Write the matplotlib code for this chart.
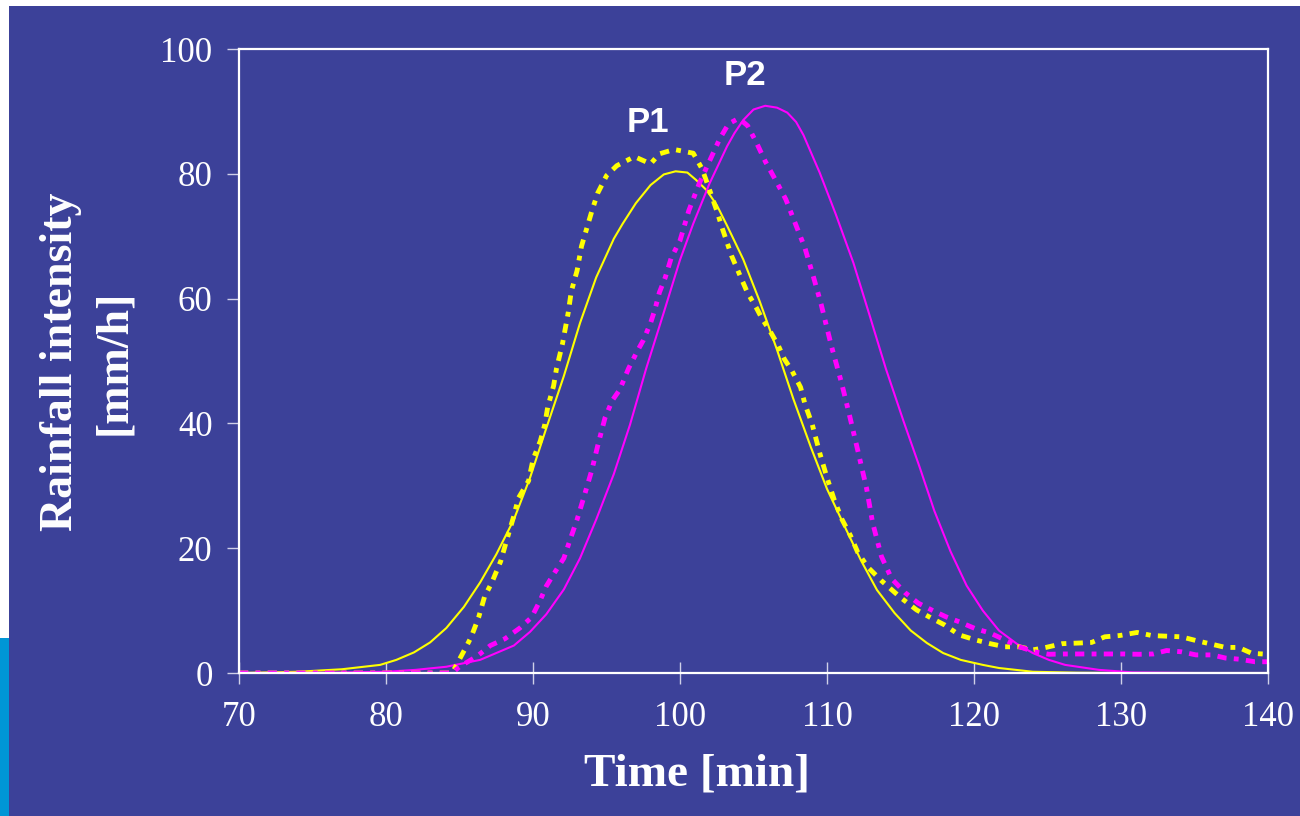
import matplotlib.pyplot as plt
from matplotlib.patches import Rectangle

# model P1 (solid yellow)
t_p1_model = [70, 74, 77, 79.6, 80.7, 81.9, 83.0, 84.1, 85.3, 86.4, 87.5, 88.7, 89.8, 90.9, 92.1,
              93.2, 94.3, 95.5, 96.1, 97.0, 98.0, 98.9, 99.7, 100.5, 101.1, 101.8, 102.5, 103.2,
              104.3, 105.4, 106.6, 107.7, 108.9, 110.0, 111.2, 112.3, 113.4, 114.6, 115.7, 116.8,
              117.9, 119.1, 120.6, 121.7, 124.0, 127, 130, 135, 140]
i_p1_model = [0, 0.2, 0.6, 1.3, 2.1, 3.3, 4.9, 7.2, 10.6, 14.5, 19.0, 24.6, 31.3, 39.2, 47.6,
              56.1, 63.4, 69.6, 72.0, 75.3, 78.2, 79.9, 80.4, 80.2, 79.0, 77.4, 75.0, 71.7,
              66.3, 59.7, 51.8, 44.0, 36.2, 29.5, 23.5, 18.1, 13.3, 9.6, 6.8, 4.8,
              3.2, 2.1, 1.3, 0.8, 0.2, 0.05, 0, 0, 0]

# model P2 (solid magenta)
t_p2_model = [70, 76, 80, 82, 84.1, 86.4, 88.7, 89.8, 90.9, 92.1, 93.2, 94.3, 95.5, 96.6, 97.7,
              98.9, 100.0, 100.9, 102.0, 103.2, 103.7, 104.3, 105.0, 105.8, 106.6, 107.3, 107.9,
              108.4, 109.5, 110.6, 111.8, 112.9, 114.0, 115.2, 116.3, 117.3, 118.4, 119.5, 120.6,
              121.7, 122.9, 124.0, 125.1, 126.2, 128.5, 130.8, 135, 140]
i_p2_model = [0, 0.05, 0.2, 0.5, 1.0, 2.1, 4.4, 6.6, 9.4, 13.4, 18.4, 24.6, 31.9, 39.8, 48.8,
              57.8, 66.2, 72.0, 78.4, 84.4, 86.5, 88.6, 90.3, 90.9, 90.6, 89.8, 88.3,
              86.2, 80.2, 73.5, 65.7, 57.3, 48.8, 40.4, 33.0, 26.0, 19.5, 14.0, 10.0,
              6.8, 4.7, 3.2, 2.1, 1.3, 0.5, 0.1, 0, 0]

# observed P1 (dashed yellow)
t_p1_obs = [70, 84.5, 85.5, 85.8, 86.3, 86.7, 87.2, 87.8, 88.2, 88.7, 89.0, 89.7, 90.0, 90.5,
            90.8, 91.0, 91.4, 91.6, 92.0, 92.4, 92.6, 93.0, 93.3, 93.65, 94.0, 94.4, 95.0, 95.7,
            96.9, 98.0, 98.6, 99.6, 100.9, 101.5, 102.0, 102.5, 102.9, 103.5, 104.1, 104.6,
            105.2, 105.6, 106.1, 106.7, 107.1, 107.6, 108.2, 108.5, 109.0, 109.5, 110.0, 110.5,
            111.0, 111.6, 112.1, 112.8, 113.7, 115.0, 116.1, 117.1, 118.0, 119.0, 120.1, 121.1,
            122.1, 123.1, 124.0, 124.9, 126.0, 127.1, 128.0, 128.9, 129.9, 131.1, 132.1, 133.1,
            134.1, 135.1, 136.2, 137.1, 138.0, 138.9, 140]
i_p1_obs = [0, 0, 4.4, 5.8, 8.9, 12.2, 14.5, 17.9, 21.2, 25.2, 28.0, 30.8, 34.2, 37.2,
            39.8, 42.6, 46.0, 48.8, 52.7, 57.8, 61.1, 64.5, 68.4, 71.2, 74.0, 76.9, 79.7, 81.3,
            82.75, 81.6, 83.2, 83.9, 83.3, 80.8, 77.5, 74.1, 71.1, 66.9, 63.6, 60.9,
            58.5, 56.7, 54.9, 52.4, 50.3, 48.5, 45.8, 43.1, 39.8, 35.3, 31.3, 27.7,
            24.7, 22.0, 19.3, 16.9, 14.8, 12.1, 10.1, 8.8, 7.7, 6.1, 5.3, 4.7,
            4.2, 4.2, 3.7, 4.1, 4.7, 4.8, 4.9, 5.8, 6.0, 6.5, 6.0, 5.9,
            5.8, 5.2, 4.6, 4.1, 4.1, 3.15, 3.0]

# observed P2 (dashed magenta)
t_p2_obs = [70, 84.5, 85.0, 86.2, 87.1, 88.1, 89.1, 89.9, 90.5, 90.9, 91.5, 92.1, 92.5, 93.0,
            93.5, 94.0, 94.4, 94.9, 95.4, 95.9, 96.5, 97.1, 97.5, 98.0, 98.3, 98.6, 99.0, 99.4,
            100.0, 100.6, 101.3, 102.0, 102.7, 103.3, 104.0, 104.6, 105.2, 105.8, 106.5, 107.2,
            107.8, 108.5, 109.1, 109.6, 110.3, 111.0, 111.5, 112.1, 112.7, 113.1, 113.7, 114.4,
            115.3, 116.2, 117.2, 118.1, 119.0, 120.1, 121.1, 122.1, 123.1, 124.1, 125.1, 126.2,
            127.2, 128.2, 129.1, 130.2, 131.2, 132.2, 133.1, 134.1, 135.1, 136.2, 137.1, 138.1,
            139.1, 140]
i_p2_obs = [0, 0, 1.0, 2.7, 4.4, 5.5, 7.2, 8.9, 11.7, 13.9, 16.2, 18.4, 21.2, 24.6,
            28.5, 32.5, 36.4, 40.9, 43.7, 45.4, 48.8, 51.6, 53.3, 56.1, 58.3, 61.0, 63.4, 66.5,
            69.3, 74.1, 78.4, 82.0, 85.6, 88.0, 88.9, 87.7, 85.0, 82.0, 79.0, 75.9,
            72.3, 68.1, 63.3, 59.1, 52.4, 46.4, 41.6, 35.6, 29.5, 24.1, 18.7, 15.1,
            12.9, 11.2, 10.0, 9.0, 8.2, 7.1, 6.4, 5.3, 4.2, 3.4, 3.0, 3.05,
            3.05, 3.05, 3.05, 3.05, 3.0, 3.05, 3.6, 3.4, 2.9, 2.9, 2.4, 2.2,
            1.8, 1.8]

x_ticks = [70, 80, 90, 100, 110, 120, 130, 140]
y_ticks = [0, 20, 40, 60, 80, 100]

bg = "#3c4199"
serif = "Liberation Serif"

fig = plt.figure(figsize=(13, 8.16), dpi=100, facecolor="white")
# slide background, kept behind the axes
fig.patches.append(Rectangle((9 / 1300, 0), 1, 810 / 816, transform=fig.transFigure,
                             facecolor=bg, edgecolor="none", zorder=-10))
fig.patches.append(Rectangle((0, 0), 9 / 1300, 1 - 638 / 816, transform=fig.transFigure,
                             facecolor="#0096d6", edgecolor="none", zorder=-10))

ax = fig.add_axes([239 / 1300, 1 - 673 / 816, 1029 / 1300, 624 / 816])
ax.set_facecolor(bg)

dash = (0, (1.9, 1.5, 1.0, 1.5))
ax.plot(t_p1_model, i_p1_model, color="#ffff00", lw=1.5, solid_joinstyle="round")
ax.plot(t_p2_model, i_p2_model, color="#ff00ff", lw=1.5, solid_joinstyle="round")
ax.plot(t_p1_obs, i_p1_obs, color="#ffff00", lw=3.5, linestyle=dash)
ax.plot(t_p2_obs, i_p2_obs, color="#ff00ff", lw=3.5, linestyle=dash)

ax.set_xlim(70, 140)
ax.set_ylim(0, 100)
ax.set_xticks(x_ticks)
ax.set_yticks(y_ticks)
for s in ax.spines.values():
    s.set_color("white")
    s.set_linewidth(1.6)

ax.tick_params(axis="x", direction="inout", length=16, width=1, color="#d0d0e8",
               labelsize=25, labelcolor="white", pad=12)
ax.tick_params(axis="y", direction="out", length=9, width=1, color="#d0d0e8",
               labelsize=25, labelcolor="white", pad=10)
for lab in ax.get_xticklabels() + ax.get_yticklabels():
    lab.set_family(serif)

fig.text(697 / 1300, 1 - 775 / 816, "Time [min]", ha="center", va="center",
         fontsize=34, fontweight="bold", color="white", family=serif)
fig.text(88 / 1300, 1 - 362 / 816, "Rainfall intensity\n[mm/h]", ha="center", va="center",
         rotation=90, fontsize=33, fontweight="bold", color="white", family=serif,
         multialignment="center", linespacing=1.35)

ax.text(97.8, 88.3, "P1", ha="center", va="center", fontsize=25, fontweight="bold",
        color="white", family="Liberation Sans")
ax.text(104.4, 95.8, "P2", ha="center", va="center", fontsize=25, fontweight="bold",
        color="white", family="Liberation Sans")

fig.savefig("out.png", dpi=100, facecolor=fig.get_facecolor())
